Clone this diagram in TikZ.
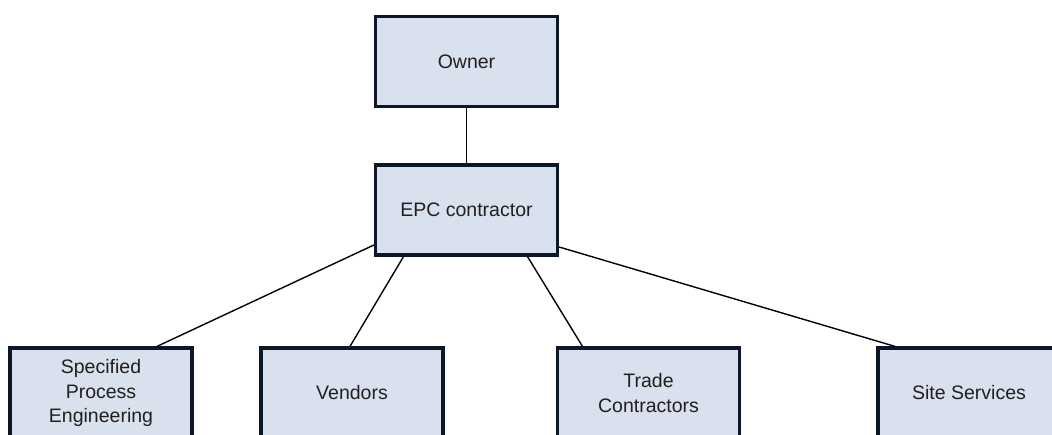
\documentclass[tikz,border=0pt]{standalone}
\usepackage{fontspec}
\setmainfont{Liberation Sans}
\definecolor{boxfill}{RGB}{217,224,238}
\definecolor{boxline}{RGB}{12,24,40}
\definecolor{txt}{RGB}{35,31,32}
\begin{document}
\begin{tikzpicture}[x=1bp,y=-1bp,
  orgbox/.style={draw=boxline,fill=boxfill,line width=3.2bp,minimum width=182bp,minimum height=90bp,
    inner sep=0pt,align=center,text=txt,font=\fontsize{19.5bp}{24.5bp}\selectfont},
  link/.style={draw=black,line width=1.4bp}]
\useasboundingbox (0,0) rectangle (1052,435);
\begin{scope}
\clip (0,0) rectangle (1052,435);
\node[orgbox] (owner) at (466.5,61.5) {Owner};
\node[orgbox] (epc) at (466.5,210) {EPC contractor};
\node[orgbox] (spe) at (101,393) {Specified\\Process\\Engineering};
\node[orgbox] (vend) at (352,393) {Vendors};
\node[orgbox] (trade) at (648.5,393) {Trade\\Contractors};
\node[orgbox] (site) at (969,393) {Site Services};
\draw[link] (owner.south) -- (epc.north);
\draw[link] ([yshift=-35bp]epc.west) -- ([xshift=56bp]spe.north);
\draw[link] ([xshift=-63bp]epc.south) -- ([xshift=-2bp]vend.north);
\draw[link] ([xshift=61bp]epc.south) -- ([xshift=-66bp]trade.north);
\draw[link] ([yshift=-37bp]epc.east) -- ([xshift=-74bp]site.north);
\end{scope}
\end{tikzpicture}
\end{document}
